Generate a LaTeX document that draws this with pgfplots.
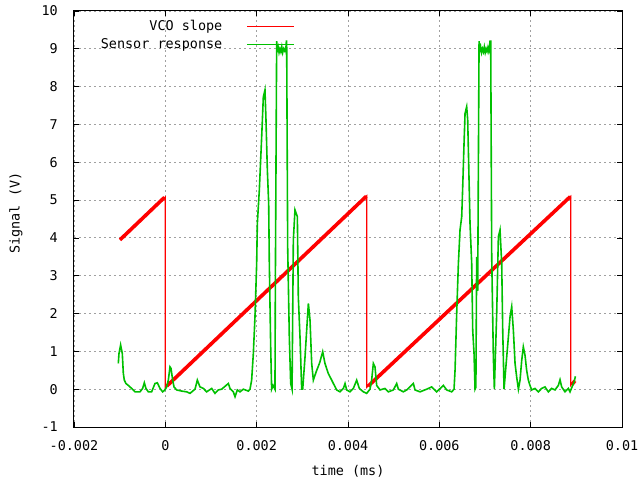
\documentclass[border=0pt]{standalone}
\usepackage{fontspec}
\setmainfont{DejaVu Sans Mono}
\usepackage{pgfplots}
\pgfplotsset{compat=1.18}
\definecolor{GpRed}{HTML}{FF0000}
\definecolor{GpGreen}{HTML}{00C000}
\definecolor{GridGray}{HTML}{A0A0A0}
\newcommand{\gpfont}{\fontsize{13.5}{16}\selectfont}

\begin{document}
\begin{tikzpicture}
\path[use as bounding box] (-74bp,-57bp) rectangle (565bp,427bp);
\begin{axis}[
  at={(0,0)}, anchor=south west,
  scale only axis, width=548bp, height=416bp,
  xmin=-0.002, xmax=0.01, ymin=-1, ymax=10,
  xtick={-0.002,0,0.002,0.004,0.006,0.008,0.01},
  ytick={-1,0,1,2,3,4,5,6,7,8,9,10},
  scaled x ticks=false,
  xticklabel style={/pgf/number format/fixed,/pgf/number format/precision=3,
                    inner sep=0pt, yshift=-13bp},
  yticklabel style={inner sep=0pt, xshift=-16bp},
  /pgf/number format/assume math mode=true,
  tick label style={font=\gpfont},
  xlabel={time (ms)}, ylabel={Signal (V)},
  every axis x label/.style={at={(axis description cs:0.5,-0.106)},anchor=center,font=\gpfont},
  every axis y label/.style={at={(axis description cs:-0.106,0.514)},anchor=center,rotate=90,font=\gpfont},
  tick align=inside, major tick length=5bp,
  axis line style={black, line width=1bp},
  every tick/.style={black, line width=0.8bp},
  grid=major,
  grid style={GridGray, line width=0.9bp, dash pattern=on 2bp off 3bp},
  legend plot pos=right,
  legend cell align=right,
  legend image code/.code={\draw[#1] (0bp,0bp) -- (47bp,0bp);},
  legend style={draw=none, fill=none, at={(rel axis cs:0.4033,0.983)}, anchor=north east,
                font=\gpfont, inner sep=0pt, row sep=2.5bp, column sep=22bp},
]
\addlegendimage{draw=GpRed, line width=1.3bp}
\addlegendentry{VCO slope}
\addlegendimage{draw=GpGreen, line width=1.5bp}
\addlegendentry{Sensor response}
% VCO slope: thin trace (drops), then thick ramps
\addplot[GpRed, line width=1.3bp, mark=none, forget plot] coordinates {
  (-0.000992,3.95) (0,5.08) (0,0.05) (0.004409,5.11) (0.004409,0.05)
  (0.008876,5.10) (0.008876,0.10) (0.00897,0.25)};
\addplot[GpRed, line width=3.6bp, mark=none, forget plot] coordinates {
  (-0.000992,3.95) (-0.00002,5.07)};
\addplot[GpRed, line width=3.6bp, mark=none, forget plot] coordinates {
  (0.00003,0.08) (0.004400,5.10)};
\addplot[GpRed, line width=3.6bp, mark=none, forget plot] coordinates {
  (0.004440,0.08) (0.008866,5.09)};
\addplot[GpRed, line width=3.6bp, mark=none, forget plot] coordinates {
  (0.008900,0.12) (0.00897,0.22)};
% Sensor response
\addplot[GpGreen, line width=1.6bp, mark=none, forget plot] coordinates {
  (-0.001030,0.68) (-0.001015,0.94) (-0.000979,1.17) (-0.000957,1.03) (-0.000942,0.94)
  (-0.000920,0.42) (-0.000898,0.24) (-0.000862,0.15) (-0.000811,0.10) (-0.000738,0.02)
  (-0.000665,-0.07) (-0.000555,-0.07) (-0.000497,0.02) (-0.000460,0.17) (-0.000424,0.02)
  (-0.000373,-0.07) (-0.000300,-0.07) (-0.000227,0.15) (-0.000175,0.17) (-0.000117,0.02)
  (-0.000058,-0.07) (-0.000008,-0.02) (0.000029,0.06) (0.000066,0.24) (0.000102,0.59)
  (0.000124,0.55) (0.000161,0.24) (0.000190,0.06) (0.000248,-0.02) (0.000358,-0.05)
  (0.000467,-0.07) (0.000540,-0.11) (0.000650,0.00) (0.000701,0.24) (0.000759,0.06)
  (0.000832,0.02) (0.000905,-0.07) (0.001015,0.02) (0.001088,-0.11) (0.001161,-0.02)
  (0.001234,0.00) (0.001380,0.15) (0.001416,0.02) (0.001489,-0.07) (0.001526,-0.20)
  (0.001577,-0.02) (0.001635,-0.07) (0.001708,0.00) (0.001818,-0.05) (0.001854,0.00)
  (0.001890,0.24) (0.001927,0.94) (0.001963,1.91) (0.002000,3.32) (0.002015,4.38)
  (0.002058,5.26) (0.002110,6.68) (0.002146,7.73) (0.002182,7.91) (0.002204,7.12)
  (0.002234,5.79) (0.002263,4.91) (0.002277,3.32) (0.002307,1.12) (0.002328,0.00)
  (0.002360,0.10) (0.002401,0.00) (0.002410,2.97) (0.002438,9.20) (0.002450,8.95)
  (0.002470,9.05) (0.002490,8.90) (0.002510,9.00) (0.002530,8.92) (0.002550,9.05)
  (0.002570,8.90) (0.002590,9.00) (0.002610,8.95) (0.002630,9.02) (0.002640,8.95)
  (0.002650,9.20) (0.002657,9.20) (0.002679,3.76) (0.002715,1.38) (0.002745,0.15)
  (0.002775,0.00) (0.002803,3.94) (0.002839,4.74) (0.002891,4.56) (0.002912,2.44)
  (0.002949,1.38) (0.002986,0.00) (0.003008,0.00) (0.003059,0.85) (0.003095,1.56)
  (0.003132,2.27) (0.003168,1.83) (0.003205,0.68) (0.003241,0.24) (0.003300,0.45)
  (0.003380,0.70) (0.003446,0.99) (0.003496,0.68) (0.003570,0.41) (0.003643,0.24)
  (0.003680,0.15) (0.003752,-0.02) (0.003825,-0.07) (0.003900,0.02) (0.003935,0.15)
  (0.003971,-0.02) (0.004044,-0.07) (0.004117,0.02) (0.004190,0.24) (0.004248,0.02)
  (0.004336,-0.07) (0.004409,-0.11) (0.004482,0.00) (0.004518,0.24) (0.004555,0.68)
  (0.004591,0.59) (0.004628,0.10) (0.004701,-0.02) (0.004811,0.02) (0.004884,-0.07)
  (0.004993,-0.02) (0.005066,0.15) (0.005103,0.00) (0.005212,-0.07) (0.005285,-0.02)
  (0.005431,0.15) (0.005468,-0.02) (0.005577,-0.07) (0.005724,0.00) (0.005833,0.06)
  (0.005942,-0.07) (0.006088,0.10) (0.006161,-0.02) (0.006271,-0.07) (0.006322,0.00)
  (0.006344,0.50) (0.006380,2.00) (0.006417,3.32) (0.006453,4.21) (0.006490,4.56)
  (0.006512,5.35) (0.006541,6.50) (0.006563,7.29) (0.006599,7.47) (0.006621,7.12)
  (0.006636,6.32) (0.006672,4.38) (0.006709,3.32) (0.006731,1.56) (0.006760,0.94)
  (0.006782,0.00) (0.006800,0.05) (0.006818,3.50) (0.006840,2.60) (0.006870,9.20)
  (0.006885,8.95) (0.006905,9.05) (0.006925,8.90) (0.006945,9.00) (0.006965,8.92)
  (0.006985,9.05) (0.007005,8.90) (0.007025,9.00) (0.007045,8.93) (0.007065,9.04)
  (0.007085,8.92) (0.007100,8.98) (0.007110,9.20) (0.007125,9.20) (0.007147,3.50)
  (0.007183,0.85) (0.007205,0.00) (0.007256,2.00) (0.007293,4.03) (0.007329,4.21)
  (0.007366,3.32) (0.007388,1.56) (0.007417,0.00) (0.007475,0.85) (0.007512,1.38)
  (0.007548,1.91) (0.007585,2.18) (0.007621,1.56) (0.007658,0.68) (0.007694,0.32)
  (0.007731,0.00) (0.007767,0.24) (0.007804,0.76) (0.007839,1.12) (0.007876,0.90)
  (0.007912,0.50) (0.007949,0.24) (0.007985,0.10) (0.008022,-0.02) (0.008095,0.02)
  (0.008168,-0.07) (0.008241,0.02) (0.008314,0.06) (0.008387,-0.07) (0.008460,0.02)
  (0.008533,-0.02) (0.008606,0.10) (0.008643,0.25) (0.008679,0.06) (0.008752,-0.07)
  (0.008825,0.02) (0.008862,-0.07) (0.008920,0.10) (0.008950,0.19) (0.008980,0.34)};
\end{axis}
\end{tikzpicture}
\end{document}
